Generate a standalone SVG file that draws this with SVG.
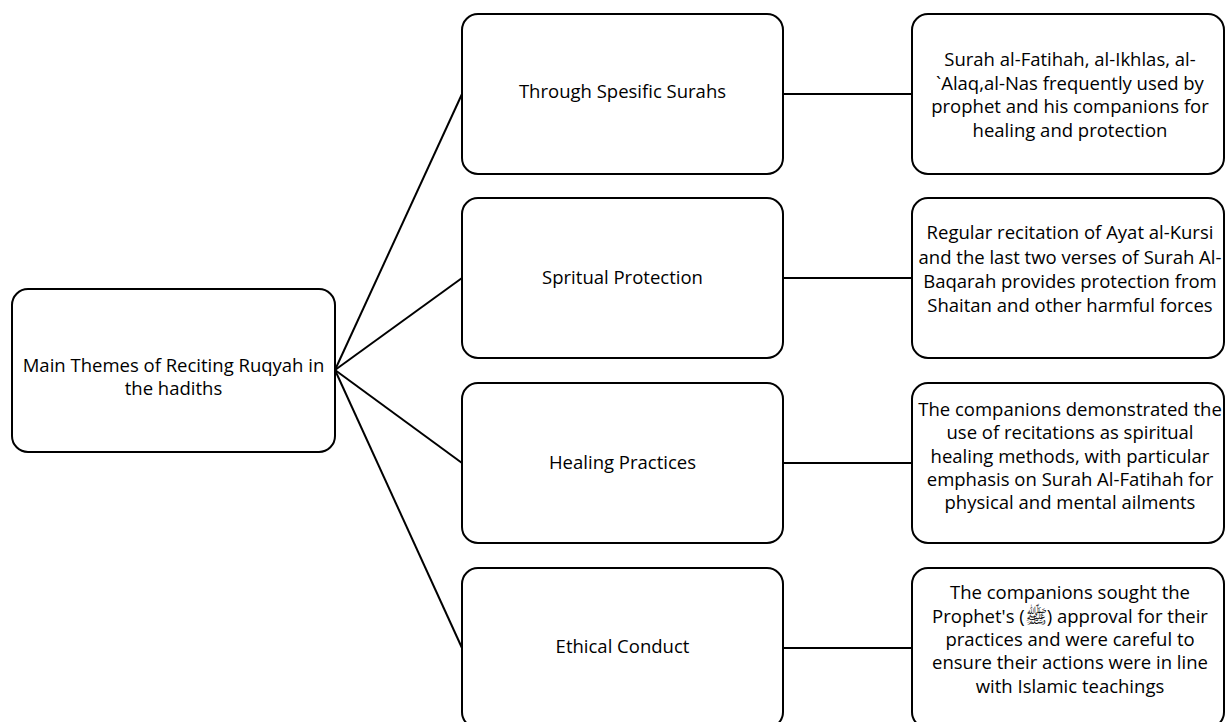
<svg xmlns="http://www.w3.org/2000/svg" width="1225" height="722" viewBox="0 0 1225 722">
<style>
.box{fill:#fff;stroke:#000;stroke-width:2}
.t{font-family:"Open Sans","Liberation Sans","DejaVu Sans",sans-serif;font-size:18.5px;fill:#000;text-anchor:middle}
.c{stroke:#000;stroke-width:2;fill:none}
</style>
<rect width="1225" height="722" fill="#fff"/>
<g id="connectors">
<line class="c" x1="335" y1="370" x2="462" y2="94"/>
<line class="c" x1="335" y1="370" x2="462" y2="278"/>
<line class="c" x1="335" y1="370" x2="462" y2="463"/>
<line class="c" x1="335" y1="370" x2="462" y2="648"/>
<line class="c" x1="783" y1="94" x2="912" y2="94"/>
<line class="c" x1="783" y1="278" x2="912" y2="278"/>
<line class="c" x1="783" y1="463" x2="912" y2="463"/>
<line class="c" x1="783" y1="648" x2="912" y2="648"/>
</g>
<g id="root">
<rect class="box" x="12" y="289" width="323" height="163" rx="16"/>
<text class="t" x="173.5" y="372">Main Themes of Reciting Ruqyah in</text>
<text class="t" x="173.5" y="395">the hadiths</text>
</g>
<g id="n1">
<rect class="box" x="462" y="14" width="321" height="160" rx="16"/>
<text class="t" x="622.5" y="98">Through Spesific Surahs</text>
</g>
<g id="n2">
<rect class="box" x="462" y="198" width="321" height="160" rx="16"/>
<text class="t" x="622.5" y="284">Spritual Protection</text>
</g>
<g id="n3">
<rect class="box" x="462" y="383" width="321" height="160" rx="16"/>
<text class="t" x="622.5" y="469">Healing Practices</text>
</g>
<g id="n4">
<rect class="box" x="462" y="568" width="321" height="160" rx="16"/>
<text class="t" x="622.5" y="653">Ethical Conduct</text>
</g>
<g id="d1">
<rect class="box" x="912" y="14" width="312" height="160" rx="16"/>
<text class="t" x="1070" y="66">Surah al-Fatihah, al-Ikhlas, al-</text>
<text class="t" x="1070" y="90">`Alaq,al-Nas frequently used by</text>
<text class="t" x="1070" y="113">prophet and his companions for</text>
<text class="t" x="1070" y="137">healing and protection</text>
</g>
<g id="d2">
<rect class="box" x="912" y="198" width="312" height="160" rx="16"/>
<text class="t" x="1070" y="239">Regular recitation of Ayat al-Kursi</text>
<text class="t" x="1070" y="264">and the last two verses of Surah Al-</text>
<text class="t" x="1070" y="288">Baqarah provides protection from</text>
<text class="t" x="1070" y="312">Shaitan and other harmful forces</text>
</g>
<g id="d3">
<rect class="box" x="912" y="383" width="312" height="160" rx="16"/>
<text class="t" x="1070" y="416">The companions demonstrated the</text>
<text class="t" x="1070" y="439">use of recitations as spiritual</text>
<text class="t" x="1070" y="463">healing methods, with particular</text>
<text class="t" x="1070" y="486">emphasis on Surah Al-Fatihah for</text>
<text class="t" x="1070" y="509">physical and mental ailments</text>
</g>
<g id="d4">
<rect class="box" x="912" y="568" width="312" height="160" rx="16"/>
<text class="t" x="1070" y="599">The companions sought the</text>
<text class="t" x="1070" y="623">Prophet's (ﷺ) approval for their</text>
<text class="t" x="1070" y="646">practices and were careful to</text>
<text class="t" x="1070" y="669">ensure their actions were in line</text>
<text class="t" x="1070" y="693">with Islamic teachings</text>
</g>
</svg>
